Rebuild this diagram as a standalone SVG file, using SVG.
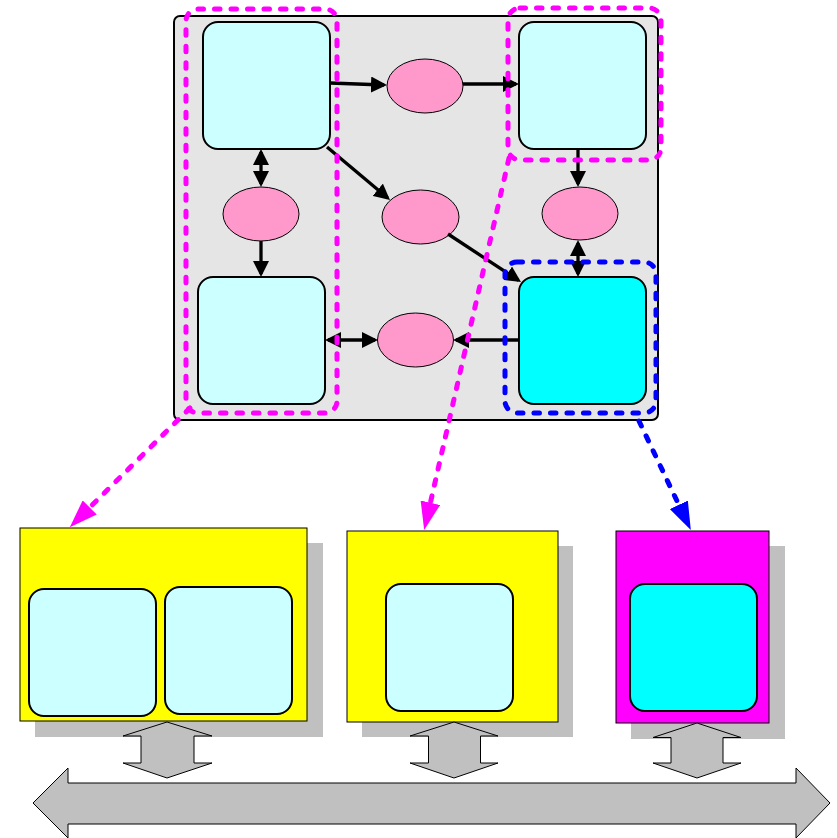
<svg xmlns="http://www.w3.org/2000/svg" width="837" height="838" viewBox="0 0 837 838">
  <style>
    .frame { fill: #e5e5e5; stroke: #000; stroke-width: 2; }
    .task { fill: #ccffff; stroke: #000; stroke-width: 2; }
    .task-hot { fill: #00ffff; stroke: #000; stroke-width: 2; }
    .chan { fill: #ff99cc; stroke: #000; stroke-width: 1; }
    .link { fill: none; stroke: #000; stroke-width: 3.3; }
    .grp-m { fill: none; stroke: #ff00ff; stroke-width: 5; stroke-dasharray: 5.5 11; stroke-linecap: round; }
    .grp-b { fill: none; stroke: #0000ff; stroke-width: 5; stroke-dasharray: 5.5 11; stroke-linecap: round; }
    .map-m { fill: none; stroke: #ff00ff; stroke-width: 5; stroke-dasharray: 5.5 11; stroke-linecap: round; marker-end: url(#headM); }
    .map-b { fill: none; stroke: #0000ff; stroke-width: 5; stroke-dasharray: 5.5 11; stroke-linecap: round; marker-end: url(#headB); }
    .shadow { fill: #c0c0c0; }
    .proc-y { fill: #ffff00; stroke: #000; stroke-width: 1; }
    .proc-m { fill: #ff00ff; stroke: #000; stroke-width: 1; }
    .bus { fill: #c0c0c0; stroke: #000; stroke-width: 1; }
  </style>
  <defs>
    <marker id="head" markerUnits="userSpaceOnUse" markerWidth="16" markerHeight="16" viewBox="0 0 16 16" refX="13" refY="8" orient="auto-start-reverse">
      <path d="M0,0 L16,8 L0,16 z" fill="#000"/>
    </marker>
    <marker id="headM" markerUnits="userSpaceOnUse" markerWidth="28" markerHeight="20" viewBox="0 0 28 20" refX="0" refY="10" orient="auto">
      <path d="M0,0 L28,10 L0,20 z" fill="#ff00ff"/>
    </marker>
    <marker id="headB" markerUnits="userSpaceOnUse" markerWidth="28" markerHeight="20" viewBox="0 0 28 20" refX="0" refY="10" orient="auto">
      <path d="M0,0 L28,10 L0,20 z" fill="#0000ff"/>
    </marker>
  </defs>

  <!-- application graph frame -->
  <rect id="frame" class="frame" x="174" y="16" width="484" height="404" rx="6"/>

  <!-- tasks -->
  <g id="task-tl"><rect class="task" x="203" y="22" width="127" height="127" rx="15"/></g>
  <g id="task-tr"><rect class="task" x="519" y="22" width="127" height="127" rx="15"/></g>
  <g id="task-bl"><rect class="task" x="198" y="277" width="127" height="127" rx="15"/></g>
  <g id="task-br"><rect class="task-hot" x="519" y="277" width="127" height="127" rx="15"/></g>

  <!-- channels -->
  <g id="chan-top"><ellipse class="chan" cx="425" cy="86" rx="38" ry="27"/></g>
  <g id="chan-left"><ellipse class="chan" cx="261" cy="214" rx="38" ry="27"/></g>
  <g id="chan-mid"><ellipse class="chan" cx="420.5" cy="217" rx="38.5" ry="27"/></g>
  <g id="chan-right"><ellipse class="chan" cx="580" cy="213.5" rx="38" ry="26.5"/></g>
  <g id="chan-bottom"><ellipse class="chan" cx="415.5" cy="340" rx="38" ry="27"/></g>

  <!-- data-flow connectors -->
  <g id="links">
    <line class="link" x1="330" y1="83" x2="384" y2="85" marker-end="url(#head)"/>
    <line class="link" x1="463" y1="84" x2="516" y2="84" marker-end="url(#head)"/>
    <line class="link" x1="261" y1="152" x2="261" y2="184" marker-start="url(#head)" marker-end="url(#head)"/>
    <line class="link" x1="261" y1="241" x2="261" y2="274" marker-end="url(#head)"/>
    <line class="link" x1="327" y1="147" x2="387.7" y2="198.1" marker-end="url(#head)"/>
    <line class="link" x1="448" y1="234" x2="518.5" y2="280.4" marker-end="url(#head)"/>
    <line class="link" x1="578" y1="149" x2="578" y2="184" marker-end="url(#head)"/>
    <line class="link" x1="578" y1="243" x2="578" y2="274" marker-start="url(#head)" marker-end="url(#head)"/>
    <line class="link" x1="328" y1="340" x2="375" y2="340" marker-start="url(#head)" marker-end="url(#head)"/>
    <line class="link" x1="519" y1="340" x2="456" y2="340" marker-end="url(#head)"/>
  </g>

  <!-- processor boxes with shadows -->
  <g id="proc-1">
    <rect class="shadow" x="35" y="543" width="288" height="194"/>
    <rect class="proc-y" x="20" y="528" width="287" height="193"/>
    <rect class="task" x="29" y="589" width="127" height="127" rx="15"/>
    <rect class="task" x="165" y="587" width="127" height="127" rx="15"/>
  </g>
  <g id="proc-2">
    <rect class="shadow" x="362" y="546" width="211" height="191"/>
    <rect class="proc-y" x="347" y="531" width="211" height="191"/>
    <rect class="task" x="386" y="584" width="127" height="127" rx="15"/>
  </g>
  <g id="proc-3">
    <rect class="shadow" x="631" y="546" width="154" height="193"/>
    <rect class="proc-m" x="616" y="531" width="153" height="192"/>
    <rect class="task-hot" x="630" y="584" width="127" height="127" rx="15"/>
  </g>

  <!-- bus and processor ports -->
  <g id="bus">
    <path class="bus" d="M33,803 L68,768 L68,783 L796,783 L796,768 L830,803 L796,838 L796,824 L68,824 L68,838 z"/>
  </g>
  <g id="port-1">
    <path class="bus" d="M167,722 L212,736 L194,736 L194,763 L212,763 L167,778 L123,763 L141,763 L141,736 L123,736 z"/>
  </g>
  <g id="port-2">
    <path class="bus" d="M454,722 L498,736 L480.5,736 L480.5,763 L498,763 L454,778 L410,763 L428.5,763 L428.5,736 L410,736 z"/>
  </g>
  <g id="port-3">
    <path class="bus" d="M697,723 L741,737.5 L723,737.5 L723,763 L741,763 L697,778 L653,763 L671,763 L671,737.5 L653,737.5 z"/>
  </g>

  <!-- task groupings and their mapping onto processors -->
  <g id="groups">
    <rect class="grp-m" x="186" y="9" width="151" height="404" rx="12"/>
    <rect class="grp-m" x="508" y="8" width="153" height="152" rx="12"/>
    <rect class="grp-b" x="505" y="262" width="151" height="151" rx="12"/>
    <line class="map-m" x1="190" y1="408" x2="89.7" y2="507.5"/>
    <line class="map-m" x1="509" y1="158" x2="430.4" y2="502.7"/>
    <line class="map-b" x1="639" y1="421" x2="678.8" y2="504.8"/>
  </g>
</svg>
